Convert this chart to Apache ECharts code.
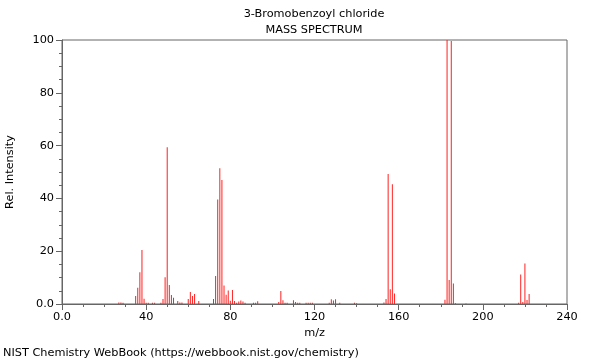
<!DOCTYPE html>
<html>
<head>
<meta charset="utf-8">
<script src="https://cdn.jsdelivr.net/npm/echarts@6/dist/echarts.min.js"></script>
<style>html,body{margin:0;padding:0;background:#fff}#c{width:600px;height:360px}</style>
</head>
<body>
<div id="c"></div>
<script>
var titleText = "3-Bromobenzoyl chloride";
var subtitleText = "MASS SPECTRUM";
var footerText = "NIST Chemistry WebBook (https://webbook.nist.gov/chemistry)";
var xTicks = [0, 40, 80, 120, 160, 200, 240];
var yTicks = [0, 20, 40, 60, 80, 100];
var mz = [27,28,29,35,36,37,38,39,40,41,43,44,47,48,49,50,51,52,53,55,56,57,60,61,62,63,65,72,73,74,75,76,77,78,79,80,81,82,83,84,85,86,87,91,92,93,103,104,105,106,107,110,111,112,113,116,117,118,119,127,128,129,130,132,139,140,153,154,155,156,157,158,182,183,184,185,186,187,192,217,218,219,220,221,222];
var intensity = [0.6,0.6,0.5,3.0,6.2,12.0,20.5,2.0,0.5,0.5,0.5,0.5,0.5,1.9,10.1,59.4,7.2,3.4,2.4,1.1,0.6,0.6,1.9,4.5,3.0,3.8,1.1,1.9,10.6,39.6,51.4,47.0,7.0,3.5,5.1,1.2,5.3,1.1,0.5,0.9,1.3,0.9,0.5,0.5,0.5,1.0,0.8,4.9,1.4,0.5,0.5,1.4,0.8,0.5,0.5,0.5,0.5,0.5,0.5,0.5,1.8,1.3,1.8,0.5,0.5,0.3,0.6,1.9,49.2,5.6,45.4,4.0,1.6,100,9.1,99.6,7.8,0.3,0.2,0.5,11.2,0.8,15.3,1.5,3.8];

var data = mz.map(function (m, i) { return [m, intensity[i]]; });
var font = 'DejaVu Sans';
var fs = 11.3;
var axisColor = '#666';
var chart = echarts.init(document.getElementById('c'), null, {renderer: 'canvas'});
chart.setOption({
  animation: false,
  backgroundColor: '#fff',
  textStyle: {fontFamily: font},
  graphic: [
    {type: 'text', x: 314, y: 14, style: {text: titleText, align: 'center', verticalAlign: 'middle',
      font: fs + 'px "' + font + '"', fill: '#000'}},
    {type: 'text', x: 314, y: 30, style: {text: subtitleText, align: 'center', verticalAlign: 'middle',
      font: fs + 'px "' + font + '"', fill: '#000'}},
    {type: 'text', x: 3, y: 353, style: {text: footerText, align: 'left', verticalAlign: 'middle',
      font: fs + 'px "' + font + '"', fill: '#000'}}
  ],
  grid: {left: 62, right: 33, top: 40, bottom: 56, show: true, borderColor: axisColor, borderWidth: 1,
    backgroundColor: 'transparent', containLabel: false, outerBoundsMode: 'none'},
  xAxis: {
    type: 'value', min: xTicks[0], max: xTicks[xTicks.length - 1], interval: 40,
    name: 'm/z', nameLocation: 'middle', nameGap: 22,
    nameTextStyle: {fontFamily: font, fontSize: fs, color: '#000'},
    axisLine: {show: true, onZero: false, lineStyle: {color: axisColor}},
    axisTick: {show: true, length: 6, lineStyle: {color: axisColor}},
    minorTick: {show: true, splitNumber: 4, length: 3, lineStyle: {color: axisColor}},
    splitLine: {show: false},
    axisLabel: {fontFamily: font, fontSize: fs, color: '#000', margin: 8,
      formatter: function (v) { return v === 0 ? '0.0' : String(v); }}
  },
  yAxis: {
    type: 'value', min: yTicks[0], max: yTicks[yTicks.length - 1], interval: 20,
    name: 'Rel. Intensity', nameLocation: 'middle', nameGap: 46, nameRotate: 90,
    nameTextStyle: {fontFamily: font, fontSize: fs, color: '#000'},
    axisLine: {show: true, lineStyle: {color: axisColor}},
    axisTick: {show: true, length: 6, lineStyle: {color: axisColor}},
    minorTick: {show: true, splitNumber: 4, length: 3, lineStyle: {color: axisColor}},
    splitLine: {show: false},
    axisLabel: {fontFamily: font, fontSize: fs, color: '#000', margin: 8,
      formatter: function (v) { return v === 0 ? '0.0' : String(v); }}
  },
  series: [{
    type: 'bar', data: data, barWidth: 1, barGap: '-100%',
    itemStyle: {color: '#ff2020'}, emphasis: {disabled: true}, silent: true
  }]
});
</script>
</body>
</html>
